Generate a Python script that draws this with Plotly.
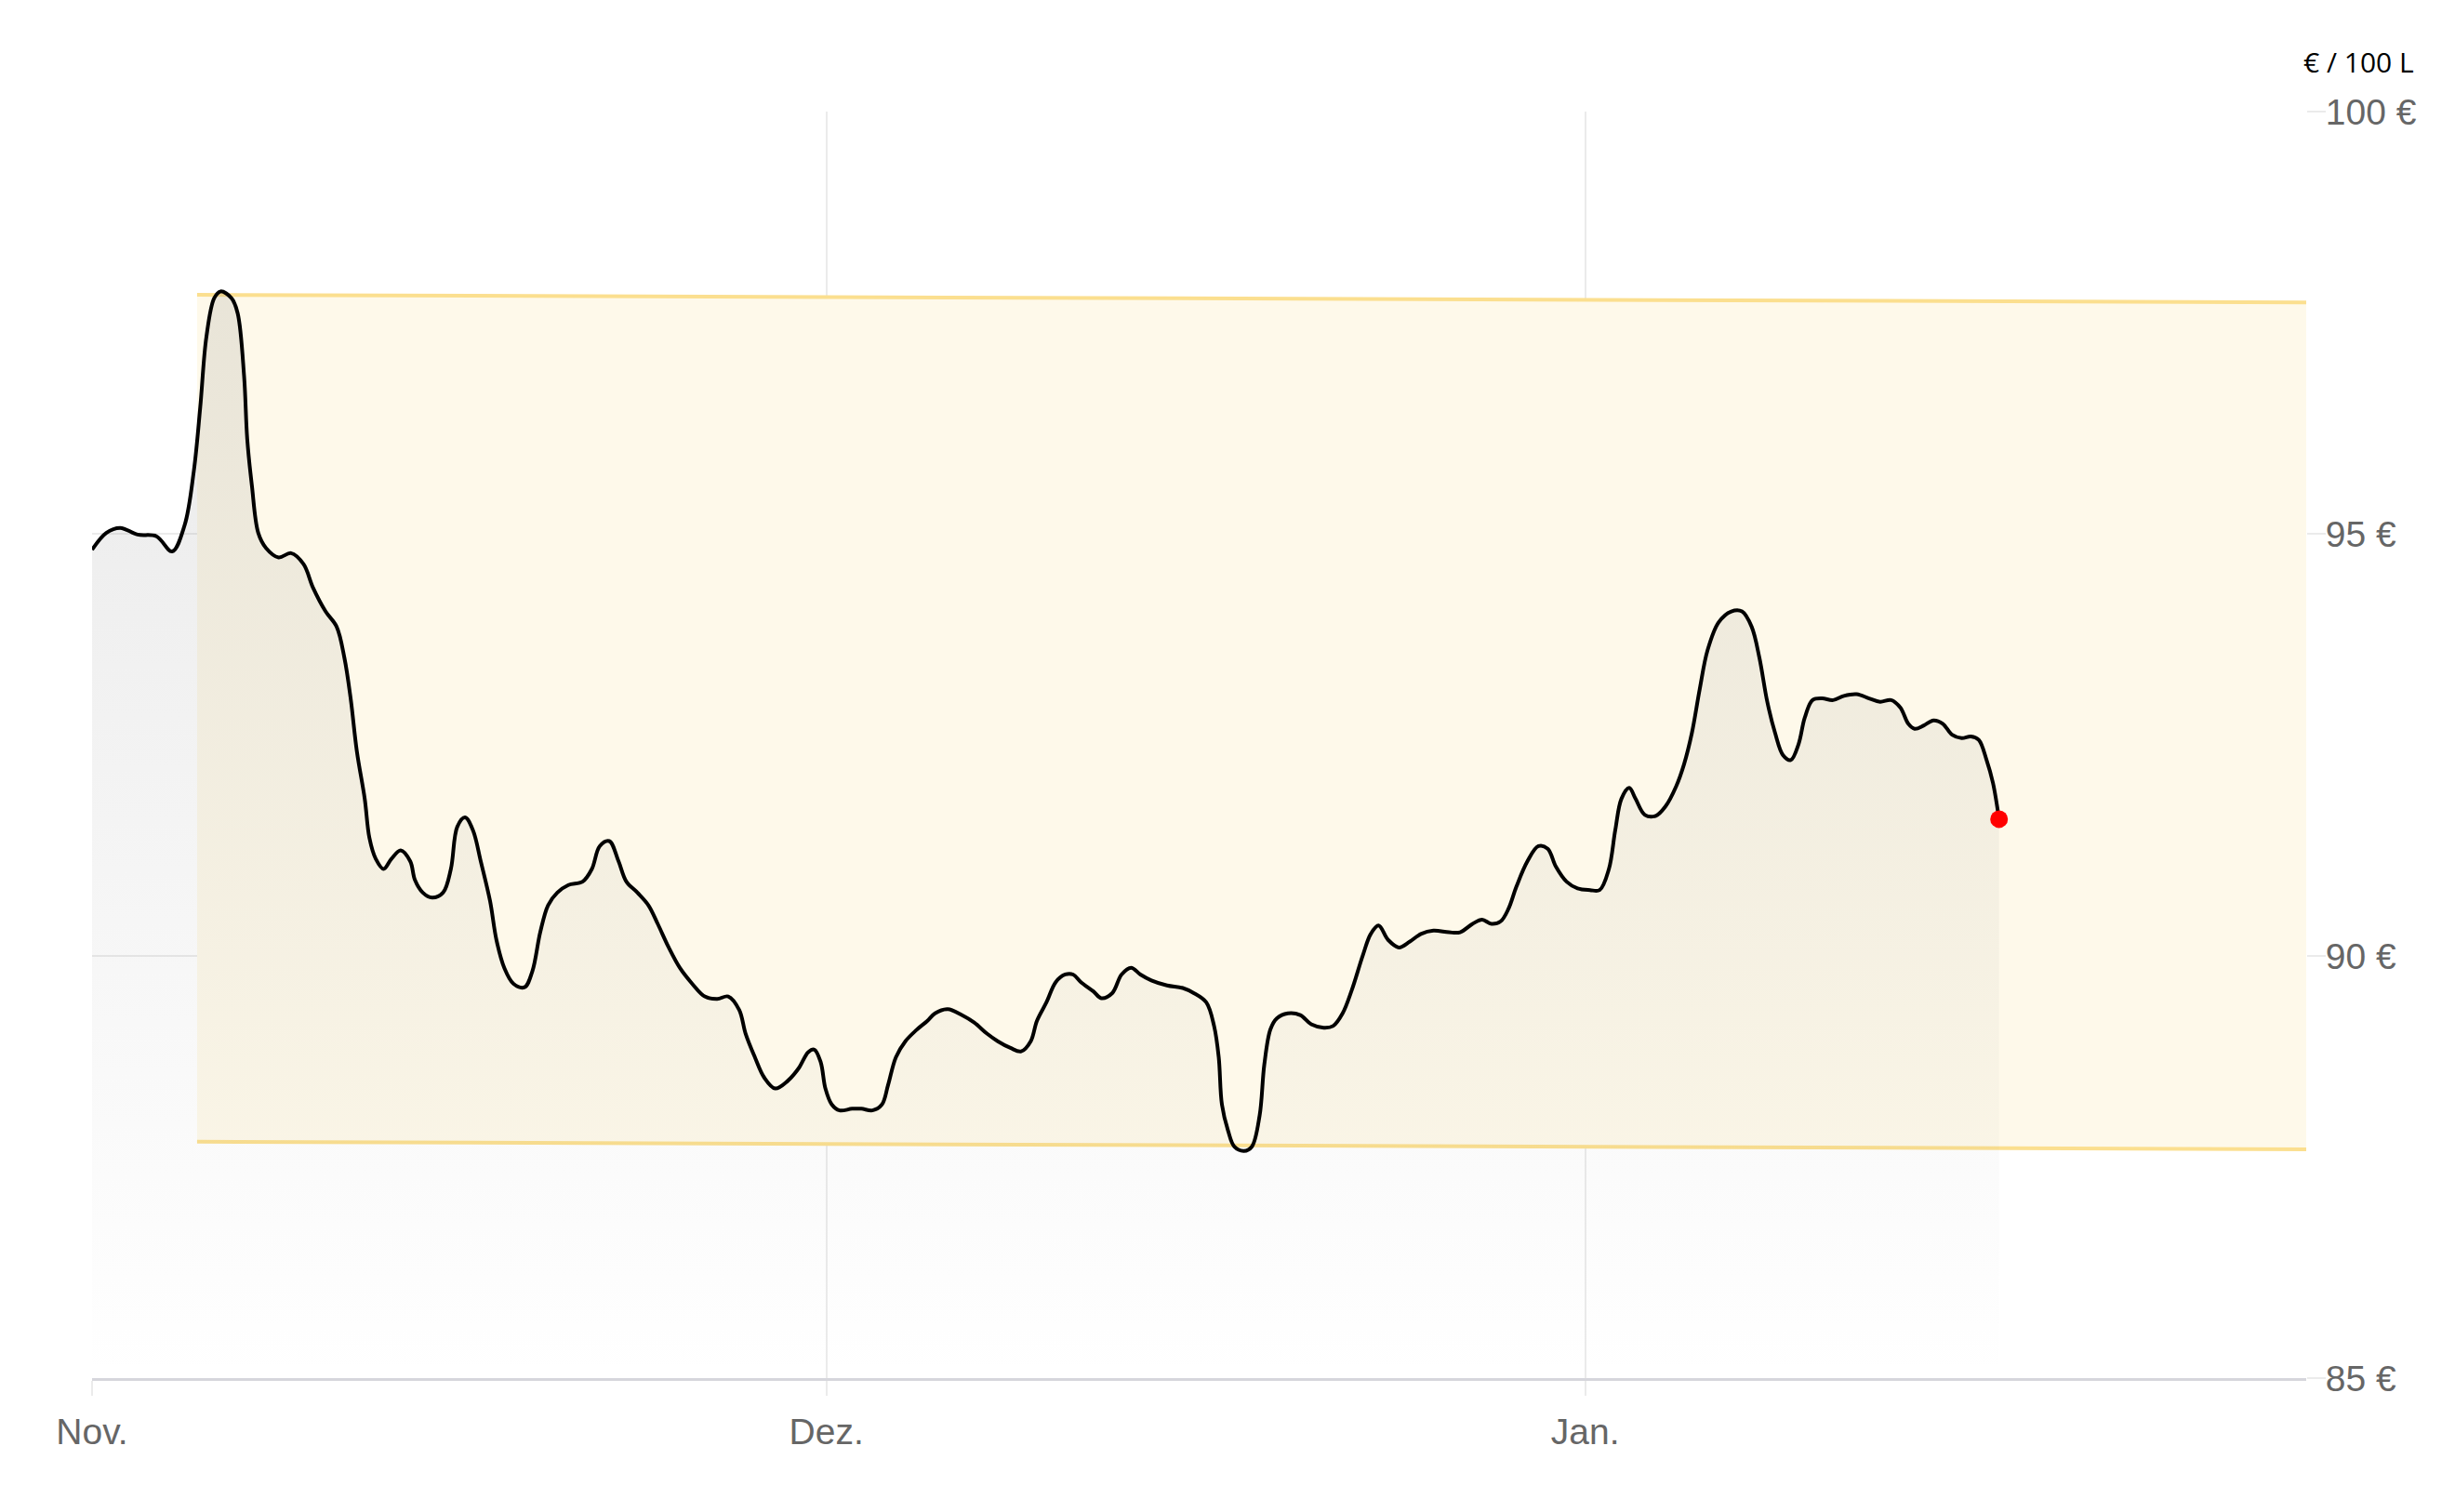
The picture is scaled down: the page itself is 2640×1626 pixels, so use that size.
import pandas as pd
import plotly.graph_objects as go

# ---- data (days since 1 Nov, price in € / 100 L) ----
day_offset = [0, 0.58, 1.15, 1.86, 2.63, 3.27, 3.78, 4.16, 4.42, 4.67, 4.99, 5.25, 5.70, 5.95, 6.21, 6.34, 6.53, 6.79,
              7.11, 7.62, 8.13, 8.64, 9.03, 9.54, 9.99, 10.31, 10.56, 10.82, 11.14, 11.33, 11.59, 11.91, 12.23, 12.61,
              13.00, 13.19, 13.51, 13.89, 14.34, 14.66, 14.92, 15.24, 15.56, 15.88, 16.26, 16.52, 16.84, 17.22, 17.67,
              17.99, 18.31, 18.63, 19.01, 19.46, 20.04, 20.42, 20.74, 21.13, 21.51, 21.83, 22.28, 22.73, 23.11, 23.56,
              24.01, 24.52, 25.03, 25.54, 25.99, 26.44, 26.70, 27.08, 27.46, 27.91, 28.42, 28.87, 29.26, 29.51, 29.77,
              29.96, 30.22, 30.54, 31.05, 31.43, 31.88, 32.27, 32.52, 32.84, 33.23, 33.67, 34.12, 34.44, 34.96, 35.53,
              36.04, 36.56, 37.00, 37.52, 37.96, 38.35, 38.60, 38.99, 39.37, 39.76, 40.08, 40.40, 40.91, 41.23, 41.68,
              42.06, 42.45, 42.83, 43.28, 43.92, 44.56, 45.01, 45.52, 45.84, 46.03, 46.16, 46.41, 46.67, 47.06, 47.38,
              47.70, 47.89, 48.14, 48.40, 48.85, 49.36, 49.81, 50.32, 50.70, 51.09, 51.47, 51.92, 52.24, 52.56, 52.95,
              53.39, 53.84, 54.29, 54.80, 55.44, 55.89, 56.40, 56.79, 57.17, 57.55, 57.87, 58.19, 58.64, 59.09, 59.47,
              59.80, 60.24, 60.69, 61.20, 61.59, 61.97, 62.23, 62.48, 62.80, 63.06, 63.44, 63.89, 64.28, 64.72, 65.04,
              65.36, 65.68, 66.00, 66.45, 66.97, 67.41, 67.80, 68.12, 68.44, 68.76, 69.08, 69.40, 69.72, 69.97, 70.29,
              70.68, 71.13, 71.57, 72.09, 72.60, 73.05, 73.50, 73.88, 74.20, 74.46, 74.84, 75.23, 75.61, 75.99, 76.38,
              76.76, 77.08, 77.40, 77.66, 77.91]
price = [94.81, 95.01, 95.07, 94.99, 94.97, 94.79, 95.10, 95.75, 96.50, 97.33, 97.79, 97.87, 97.79, 97.61, 96.87, 96.12,
         95.57, 95.01, 94.83, 94.72, 94.77, 94.64, 94.36, 94.08, 93.90, 93.53, 93.06, 92.42, 91.86, 91.40, 91.15, 91.03,
         91.15, 91.25, 91.12, 90.90, 90.75, 90.69, 90.75, 91.03, 91.53, 91.64, 91.49, 91.12, 90.65, 90.19, 89.86, 89.67,
         89.63, 89.82, 90.28, 90.60, 90.75, 90.84, 90.88, 91.03, 91.30, 91.36, 91.12, 90.88, 90.75, 90.60, 90.38, 90.10,
         89.86, 89.67, 89.52, 89.49, 89.52, 89.36, 89.08, 88.80, 88.56, 88.43, 88.52, 88.67, 88.86, 88.89, 88.74, 88.43,
         88.24, 88.17, 88.19, 88.19, 88.17, 88.24, 88.47, 88.80, 88.99, 89.12, 89.23, 89.32, 89.37, 89.30, 89.21, 89.08,
         88.99, 88.91, 88.87, 88.99, 89.23, 89.45, 89.69, 89.78, 89.78, 89.69, 89.58, 89.50, 89.56, 89.78, 89.86, 89.78,
         89.71, 89.65, 89.62, 89.56, 89.45, 89.17, 88.80, 88.24, 87.93, 87.74, 87.69, 87.74, 88.11, 88.71, 89.13, 89.26,
         89.32, 89.30, 89.19, 89.15, 89.17, 89.32, 89.60, 90.01, 90.26, 90.36, 90.19, 90.10, 90.17, 90.26, 90.30, 90.28,
         90.28, 90.38, 90.43, 90.38, 90.41, 90.56, 90.82, 91.12, 91.30, 91.27, 91.06, 90.88, 90.80, 90.78, 90.78, 91.03,
         91.49, 91.86, 91.99, 91.86, 91.67, 91.66, 91.77, 92.01, 92.27, 92.64, 93.16, 93.62, 93.95, 94.08, 94.08, 93.90,
         93.53, 93.01, 92.64, 92.38, 92.32, 92.51, 92.82, 93.03, 93.05, 93.03, 93.08, 93.10, 93.05, 93.01, 93.03, 92.94,
         92.75, 92.69, 92.73, 92.79, 92.75, 92.62, 92.58, 92.60, 92.56, 92.32, 92.05, 91.62]

# trend channel (start / end)
band_dates = ["2024-11-05 07:00", "2025-01-30 11:00"]
band_upper = [97.83, 97.74]
band_lower = [87.80, 87.71]

tick_dates = ["2024-11-01", "2024-12-01", "2025-01-01"]
tick_labels = ["Nov.", "Dez.", "Jan."]
y_ticks = [85, 90, 95, 100]
y_tick_labels = [f"{v} €" for v in y_ticks]
x_range = ["2024-11-01 00:00", "2025-01-30 11:00"]
unit_label = "€ / 100 L"

dates = pd.Timestamp("2024-11-01") + pd.to_timedelta(day_offset, unit="D")

fig = go.Figure()

# channel
fig.add_trace(go.Scatter(x=band_dates, y=band_lower, mode="lines",
                         line=dict(color="#fbdf8f", width=4), hoverinfo="skip", showlegend=False))
fig.add_trace(go.Scatter(x=band_dates, y=band_upper, mode="lines", fill="tonexty", fillcolor="#fef9ea",
                         line=dict(color="#fbdf8f", width=4), hoverinfo="skip", showlegend=False))

# price area
fig.add_trace(go.Scatter(
    x=dates, y=price, mode="lines",
    line=dict(color="black", width=4, shape="spline", smoothing=1),
    fill="tozeroy",
    fillgradient=dict(type="vertical", start=85, stop=98,
                      colorscale=[[0, "rgba(120,120,120,0.0)"], [1, "rgba(120,120,120,0.16)"]]),
    showlegend=False))

# last point
fig.add_trace(go.Scatter(x=[dates[-1]], y=[price[-1]], mode="markers",
                         marker=dict(color="#ff0000", size=19), showlegend=False))

fig.add_annotation(text=unit_label, xref="paper", yref="paper", x=1.0496, y=1.039,
                   xanchor="right", yanchor="middle", showarrow=False,
                   font=dict(family="Open Sans", size=30, color="black"))

fig.update_layout(
    width=2640, height=1626,
    margin=dict(l=91, r=168, t=112, b=152),
    paper_bgcolor="white", plot_bgcolor="white",
    font=dict(family="Liberation Sans", size=39, color="#666666"),
    xaxis=dict(type="date", range=x_range, tickvals=tick_dates, ticktext=tick_labels,
               showgrid=True, gridcolor="#ebebeb", gridwidth=1.5,
               ticks="outside", ticklen=16, tickcolor="#ebebeb", tickwidth=1.5,
               ticklabelstandoff=5,
               showline=True, linecolor="#d6d6dc", linewidth=2.5, zeroline=False),
    yaxis=dict(range=[85, 100], side="right", tickvals=y_ticks, ticktext=y_tick_labels,
               showgrid=True, gridcolor="#ebebeb", gridwidth=1.5,
               ticks="outside", ticklen=20, tickcolor="#ebebeb", tickwidth=1.5,
               ticklabelstandoff=-8,
               zeroline=False, showline=False),
)

fig.write_html("out.html")
